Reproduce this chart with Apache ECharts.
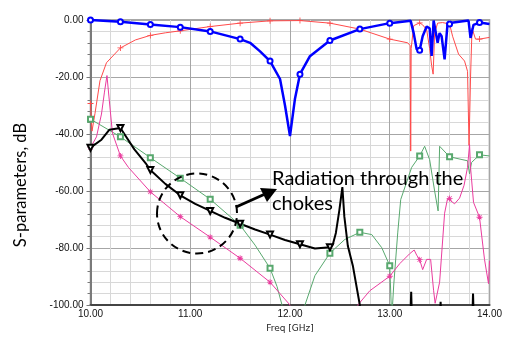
<!DOCTYPE html>
<html>
<head>
<meta charset="utf-8">
<script src="https://cdn.jsdelivr.net/npm/echarts@6/dist/echarts.min.js"></script>
<style>
    html, body { margin: 0; padding: 0; background: #fff; }
    #chart { width: 505px; height: 338px; }
</style>
</head>
<body>
<div id="chart"></div>
<script>
    // frequency (GHz) / dB pairs
    let blueX = [10.0, 10.3, 10.6, 10.9, 11.2, 11.5, 11.6, 11.7, 11.8, 11.9, 11.95, 12.0, 12.05, 12.1, 12.2, 12.4, 12.7, 13.0, 13.21, 13.24, 13.27, 13.3, 13.33, 13.37, 13.4, 13.42, 13.44, 13.46, 13.48, 13.5, 13.52, 13.55, 13.58, 13.6, 13.79, 13.81, 13.84, 13.9, 14.0];
    let blueY = [0, -0.6, -1.6, -2.5, -4, -6.7, -8, -11, -14.4, -20.7, -30, -40.7, -27.6, -19, -12.7, -7.2, -3.2, -1.1, -0.3, -4.6, -10.3, -10.6, -5.7, -2.3, -2.9, -12.6, -0.2, -0.2, -8, -4.6, -5.7, -13.8, -1.1, -1.4, -0.2, -6.3, -1.7, -0.9, -1.4];

    let redX = [10.0, 10.015, 10.045, 10.095, 10.16, 10.3, 10.45, 10.6, 10.75, 10.9, 11.2, 11.5, 11.8, 12.1, 12.4, 12.7, 13.0, 13.18, 13.205, 13.21, 13.215, 13.24, 13.3, 13.33, 13.37, 13.4, 13.42, 13.435, 13.45, 13.48, 13.53, 13.6, 13.63, 13.69, 13.75, 13.78, 13.795, 13.81, 13.825, 13.86, 13.9, 14.0];
    let redY = [-29.3, -39, -32.8, -21.3, -15, -9.8, -7, -5.4, -4.5, -3.8, -2.3, -1.1, -0.3, -0.2, -1.1, -3.2, -6.7, -8, -9, -46, -10, -2, -1, -1.7, -3.4, -10, -16, -19, -4.6, -1.1, -0.9, -1.4, -5.7, -12, -14.4, -18, -44, -20, -2.9, -6.7, -6.7, -6.1];

    let blackX = [10.0, 10.11, 10.19, 10.3, 10.44, 10.56, 10.6, 10.75, 10.9, 11.05, 11.2, 11.35, 11.5, 11.65, 11.8, 11.95, 12.1, 12.25, 12.4, 12.43, 12.46, 12.495, 12.525, 12.545, 12.58, 12.63, 12.7, 12.72, 13.2, 13.215, 13.23, 13.49, 13.51, 13.53, 13.82, 13.835, 13.85, 14.0];
    let blackY = [-44.8, -42, -38.5, -37.9, -45.4, -50.6, -52.6, -57.5, -61.5, -64.5, -67, -69.4, -71.5, -73.5, -75.3, -77.2, -78.7, -80.2, -79.7, -78.7, -74.7, -66.7, -58.6, -69, -79.3, -86.2, -100, -115, -115, -95.4, -115, -115, -98.9, -115, -115, -96, -115, -115];

    let greenX = [10.0, 10.3, 10.6, 10.9, 11.2, 11.5, 11.65, 11.8, 11.87, 11.92, 11.94, 12.13, 12.15, 12.25, 12.4, 12.55, 12.7, 12.82, 12.92, 13.0, 13.02, 13.04, 13.08, 13.11, 13.22, 13.3, 13.35, 13.4, 13.45, 13.485, 13.5, 13.52, 13.6, 13.78, 13.8, 13.82, 13.9, 14.0];
    let greenY = [-34.8, -41, -48.3, -55.5, -62.9, -72, -79, -87.1, -93.5, -100, -110, -110, -100, -89.7, -81.8, -77, -74.5, -75.3, -79.9, -86.2, -105, -93, -74.7, -63, -51.7, -47.7, -44.3, -49, -60, -67, -44.3, -44, -48, -49.4, -54, -50, -47.3, -47.7];

    let pinkX = [10.0, 10.06, 10.11, 10.14, 10.165, 10.185, 10.22, 10.3, 10.38, 10.6, 10.9, 11.2, 11.5, 11.8, 11.9, 12.0, 12.02, 12.66, 12.68, 12.8, 13.0, 13.1, 13.2, 13.245, 13.27, 13.3, 13.33, 13.37, 13.41, 13.44, 13.455, 13.5, 13.55, 13.58, 13.6, 13.65, 13.7, 13.745, 13.78, 13.8, 13.81, 13.84, 13.9, 13.95, 13.99, 14.0];
    let pinkY = [-44.8, -41, -33, -25.3, -19.5, -27, -39.7, -47.7, -51.7, -60.3, -69, -76.2, -83.6, -92, -96, -100, -110, -110, -100, -95, -89.9, -85.5, -82, -80.7, -82.5, -84.1, -87.6, -84, -84, -95, -99.4, -92, -67.8, -62.6, -62.6, -64.5, -62.5, -58, -51.7, -43.7, -51.7, -64, -69.2, -84, -92.5, -84.5];

    let xTicks = [10, 11, 12, 13, 14];
    let yTicks = [-100, -80, -60, -40, -20, 0];

    function pairs(xs, ys) {
        let out = [];
        for (let i = 0; i < xs.length; i++) out.push([xs[i], ys[i]]);
        return out;
    }

    // markers every 0.3 GHz, like the simulator draws them
    function markerFor(sym) {
        return function (value) {
            let k = (value[0] - 10) / 0.3;
            if (Math.abs(k - Math.round(k)) > 1e-6 || value[1] <= -99) return 'none';
            return sym;
        };
    }

    let plusPath = 'path://M4.3,0H5.7V4.3H10V5.7H5.7V10H4.3V5.7H0V4.3H4.3Z';
    let starPath = 'path://M4.3,0H5.7V10H4.3Z M0,4.3H10V5.7H0Z M1,1.9L1.9,1L9,8.1L8.1,9Z M8.1,1L9,1.9L1.9,9L1,8.1Z';

    let myChart = echarts.init(document.getElementById('chart'));
    myChart.setOption({
        animation: false,
        backgroundColor: '#fff',
        grid: {
            left: 90.5, right: 13, top: 20, bottom: 28,
            show: true,
            borderColor: '#8a8a8a',
            borderWidth: 1.5
        },
        xAxis: {
            type: 'value',
            min: xTicks[0],
            max: xTicks[xTicks.length - 1],
            interval: 1,
            name: 'Freq [GHz]',
            nameLocation: 'middle',
            nameGap: 19,
            nameTextStyle: { fontFamily: 'DejaVu Sans', fontSize: 9, color: '#222' },
            axisLine: { show: true, onZero: false, lineStyle: { color: '#444', width: 2 } },
            axisTick: { show: false },
            axisLabel: {
                margin: 4,
                fontFamily: 'Liberation Sans', fontSize: 10, color: '#111',
                formatter: function (v) { return v.toFixed(2); }
            },
            splitLine: { show: true, lineStyle: { color: '#a6a6a6', width: 1 } },
            minorTick: { show: false, splitNumber: 5 },
            minorSplitLine: { show: true, lineStyle: { color: '#d8d8d8', width: 1 } }
        },
        yAxis: {
            type: 'value',
            min: yTicks[0],
            max: yTicks[yTicks.length - 1],
            interval: 20,
            axisLine: { show: true, onZero: false, lineStyle: { color: '#7a7a7a', width: 2 } },
            axisTick: { show: true, length: 4, lineStyle: { color: '#7a7a7a' } },
            minorTick: { show: true, splitNumber: 5, length: 3, lineStyle: { color: '#7a7a7a' } },
            axisLabel: {
                margin: 7,
                fontFamily: 'Liberation Sans', fontSize: 10, color: '#111',
                formatter: function (v) { return v.toFixed(2); }
            },
            splitLine: { show: true, lineStyle: { color: '#a6a6a6', width: 1 } },
            minorSplitLine: { show: true, lineStyle: { color: '#d8d8d8', width: 1 } }
        },
        graphic: [
            {
                type: 'text', x: 21, y: 185, rotation: Math.PI / 2,
                style: {
                    text: 'S-parameters, dB', fill: '#000',
                    font: '16.5px Lato', textAlign: 'center', textVerticalAlign: 'middle'
                }
            },
            {
                type: 'ellipse',
                shape: { cx: 197, cy: 213.5, rx: 40, ry: 40 },
                style: { fill: 'none', stroke: '#000', lineWidth: 2, lineDash: [8, 5] },
                z: 100
            },
            {
                type: 'line',
                shape: { x1: 236, y1: 207, x2: 264, y2: 194.5 },
                style: { stroke: '#000', lineWidth: 3 },
                z: 100
            },
            {
                type: 'polygon',
                shape: { points: [[277, 189], [260, 188], [267, 202]] },
                style: { fill: '#000' },
                z: 100
            },
            {
                type: 'text', x: 272, y: 189,
                style: {
                    text: 'Radiation through the', fill: '#000',
                    font: '20px Lato', textVerticalAlign: 'bottom'
                },
                z: 100
            },
            {
                type: 'text', x: 272, y: 214,
                style: {
                    text: 'chokes', fill: '#000',
                    font: '20px Lato', textVerticalAlign: 'bottom'
                },
                z: 100
            }
        ],
        series: [
            {
                name: 'red', type: 'line', data: pairs(redX, redY),
                symbol: markerFor(plusPath), symbolSize: 6,
                lineStyle: { color: '#ff4a4a', width: 1 },
                itemStyle: { color: '#ff4a4a', borderWidth: 0 }
            },
            {
                name: 'green', type: 'line', data: pairs(greenX, greenY),
                symbol: markerFor('emptyRect'), symbolSize: 5,
                lineStyle: { color: '#58a86e', width: 1 },
                itemStyle: { color: '#58a86e', borderWidth: 1 }
            },
            {
                name: 'pink', type: 'line', data: pairs(pinkX, pinkY),
                symbol: markerFor(starPath), symbolSize: 6,
                lineStyle: { color: '#ea3c9e', width: 1 },
                itemStyle: { color: '#ea3c9e', borderWidth: 0 }
            },
            {
                name: 'black', type: 'line', data: pairs(blackX, blackY),
                symbol: markerFor('emptyTriangle'), symbolRotate: 180, symbolSize: 6,
                lineStyle: { color: '#000', width: 2 },
                itemStyle: { color: '#000', borderWidth: 1.2 }
            },
            {
                name: 'blue', type: 'line', data: pairs(blueX, blueY),
                symbol: markerFor('emptyCircle'), symbolSize: 5,
                lineStyle: { color: '#0000ff', width: 2.5 },
                itemStyle: { color: '#0000ff', borderWidth: 1.5 }
            }
        ]
    });
</script>
</body>
</html>
